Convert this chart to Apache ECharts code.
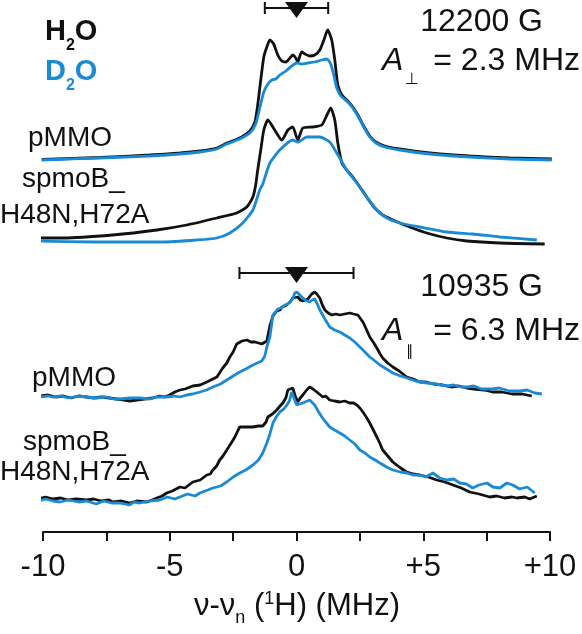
<!DOCTYPE html>
<html><head><meta charset="utf-8">
<script src="https://cdn.jsdelivr.net/npm/echarts@6/dist/echarts.min.js"></script>
<style>html,body{margin:0;padding:0;background:#fff}#c{width:582px;height:634px}</style>
</head><body><div id="c"></div>
<script>
// ---- data: x = nu - nu_n (MHz), y = ENDOR intensity relative to each trace's baseline ----
const perp_pMMO_H2O = [[-10.05,0.5],[-7.76,2.5],[-5.79,5],[-4.60,7],[-3.81,9],[-3.14,12],[-2.75,17],[-2.43,20],[-2.16,23],[-1.84,29],[-1.64,38],[-1.53,55],[-1.41,80],[-1.29,103],[-1.17,113],[-1.05,120],[-0.90,116],[-0.74,105],[-0.58,99],[-0.42,98],[-0.26,102],[-0.15,105],[-0.03,102],[0.05,98],[0.13,104],[0.21,108],[0.33,106],[0.52,104],[0.72,105],[0.92,110],[1.08,120],[1.23,130],[1.39,120],[1.51,100],[1.63,75],[1.79,65],[2.02,59],[2.22,53],[2.42,45],[2.65,34],[2.89,24],[3.13,18],[3.48,14],[4.07,11],[5.26,7],[6.83,4],[8.41,2],[10.07,1]];
const perp_pMMO_D2O = [[-10.05,0],[-7.76,2],[-5.79,4],[-4.60,6],[-3.81,8],[-3.14,11],[-2.75,16],[-2.43,19],[-2.16,22],[-1.84,27],[-1.61,36],[-1.45,52],[-1.29,68],[-1.13,76],[-0.97,80],[-0.82,81],[-0.66,85],[-0.42,89],[-0.19,94],[0.01,97],[0.21,96],[0.45,97],[0.72,98],[1.00,100],[1.20,101],[1.35,96],[1.47,85],[1.59,72],[1.75,64],[2.02,58],[2.22,52],[2.42,44],[2.65,33],[2.89,23],[3.13,17],[3.48,13],[4.07,10],[5.26,6],[6.83,3],[8.41,1],[10.07,0]];
const perp_spmoB_H2O = [[-10.32,4],[-9.21,4],[-7.25,7],[-5.51,12],[-4.33,17],[-3.14,24],[-2.36,29],[-1.96,35],[-1.72,45],[-1.61,57],[-1.53,72],[-1.41,92],[-1.29,112],[-1.13,122],[-0.86,112],[-0.58,102],[-0.34,112],[-0.15,115],[0.05,102],[0.25,114],[0.64,115],[1.00,117],[1.20,127],[1.35,134],[1.51,122],[1.63,99],[1.79,79],[1.98,72],[2.22,65],[2.50,55],[2.77,45],[3.09,34],[3.40,27],[3.80,22],[4.47,15],[5.14,9],[5.93,4],[6.72,1],[8.02,-1],[9.79,-2]];
const perp_spmoB_D2O = [[-10.52,1],[-7.88,0],[-5.27,0],[-3.93,2],[-3.14,4],[-2.63,9],[-2.12,19],[-1.72,32],[-1.45,52],[-1.33,58],[-1.05,79],[-0.66,92],[-0.15,102],[0.05,100],[0.41,105],[0.92,105],[1.31,100],[1.59,89],[1.98,72],[2.38,59],[2.77,45],[3.17,32],[3.56,24],[4.07,19],[4.86,15],[5.93,10],[6.95,8],[8.02,5],[9.48,2]];
const par_pMMO_H2O = [[-10.44,3],[-10.1,2],[-9.8,3],[-9.5,1],[-9.2,2],[-8.9,0],[-8.6,2],[-8.28,1],[-8.0,0],[-7.7,1],[-7.37,0],[-7.1,-1],[-6.8,-2],[-6.58,-3],[-6.3,-2],[-6.0,-1],[-5.67,0],[-5.4,2],[-5.2,1],[-5.00,3],[-4.8,6],[-4.60,8],[-4.4,9],[-4.09,12],[-3.8,13],[-3.54,16],[-3.3,19],[-3.14,21],[-2.91,30],[-2.75,35],[-2.63,41],[-2.5,46],[-2.36,54],[-2.15,57],[-1.96,58],[-1.8,56],[-1.64,56],[-1.5,55],[-1.37,54],[-1.17,57],[-1.05,72],[-0.93,82],[-0.78,87],[-0.65,88],[-0.58,91],[-0.45,92],[-0.38,94],[-0.25,96],[-0.15,100],[0.05,101],[0.15,98],[0.25,97],[0.45,99],[0.60,104],[0.72,106],[0.8,104],[0.92,100],[1.02,93],[1.12,88],[1.25,85],[1.39,83],[1.55,84],[1.71,83],[1.9,84],[2.10,85],[2.25,84],[2.42,83],[2.62,76],[2.75,69],[2.89,61],[3.05,55],[3.17,50],[3.3,44],[3.40,40],[3.6,35],[3.80,31],[4.05,27],[4.35,21],[4.6,19],[4.86,16],[5.1,16],[5.4,14],[5.77,13],[6.1,11],[6.4,12],[6.72,10],[7.0,9],[7.4,8],[7.74,6],[8.1,6],[8.5,4],[8.9,4],[9.28,2]];
const par_pMMO_D2O = [[-10.44,3],[-10.1,1],[-9.8,2],[-9.61,1],[-9.3,2],[-9.0,0],[-8.6,2],[-8.28,1],[-7.9,0],[-7.5,1],[-7.2,-1],[-6.97,-1],[-6.6,0],[-6.18,0],[-5.8,-1],[-5.5,1],[-5.12,1],[-4.8,2],[-4.6,1],[-4.33,3],[-4.1,4],[-3.81,6],[-3.55,8],[-3.30,11],[-3.0,14],[-2.75,18],[-2.5,22],[-2.24,26],[-2.0,29],[-1.72,33],[-1.55,35],[-1.37,37],[-1.25,42],[-1.17,51],[-1.05,61],[-0.93,83],[-0.83,86],[-0.74,89],[-0.6,90],[-0.46,93],[-0.35,94],[-0.26,96],[-0.15,99],[-0.07,105],[0.01,106],[0.13,103],[0.25,100],[0.33,98],[0.52,96],[0.62,98],[0.72,99],[0.82,94],[0.92,88],[1.12,79],[1.31,71],[1.5,68],[1.71,66],[1.9,63],[2.10,60],[2.3,56],[2.50,51],[2.7,46],[2.89,41],[3.1,37],[3.29,33],[3.55,29],[3.80,25],[4.1,22],[4.35,20],[4.7,17],[5.14,15],[5.5,14],[5.93,12],[6.2,13],[6.5,11],[6.72,11],[7.0,12],[7.3,9],[7.74,9],[8.0,10],[8.4,7],[8.81,7],[9.1,8],[9.4,5],[9.68,4]];
const par_spmoB_H2O = [[-10.52,4],[-10.2,3],[-9.9,5],[-9.61,3],[-9.3,4],[-9.0,2],[-8.7,3],[-8.28,2],[-8.0,3],[-7.7,1],[-7.4,2],[-7.25,0],[-6.9,1],[-6.58,-1],[-6.3,1],[-5.91,0],[-5.7,2],[-5.51,4],[-5.3,6],[-5.12,9],[-4.9,11],[-4.60,15],[-4.4,14],[-4.09,20],[-3.8,22],[-3.54,27],[-3.4,28],[-3.30,32],[-3.15,36],[-3.03,42],[-2.9,46],[-2.75,52],[-2.6,58],[-2.43,65],[-2.3,72],[-2.24,75],[-2.0,75],[-1.72,75],[-1.5,76],[-1.33,76],[-1.2,80],[-1.13,85],[-0.95,88],[-0.78,92],[-0.65,96],[-0.54,99],[-0.42,104],[-0.34,112],[-0.15,114],[-0.05,106],[0.05,100],[0.15,104],[0.25,107],[0.4,112],[0.52,115],[0.65,113],[0.80,110],[1.04,105],[1.15,106],[1.31,102],[1.5,101],[1.71,100],[1.9,101],[2.10,99],[2.25,99],[2.38,97],[2.5,94],[2.62,90],[2.75,85],[2.89,79],[3.03,72],[3.17,65],[3.3,58],[3.40,52],[3.6,46],[3.80,40],[4.05,35],[4.35,30],[4.6,28],[4.86,27],[5.2,25],[5.53,22],[5.85,20],[6.17,17],[6.5,14],[6.83,10],[7.2,8],[7.62,5],[7.9,6],[8.2,4],[8.5,5],[8.69,4],[9.0,5],[9.2,3],[9.48,6]];
const par_spmoB_D2O = [[-10.52,4],[-10.2,1],[-9.9,3],[-9.6,1],[-9.33,0],[-9.0,2],[-8.6,0],[-8.28,1],[-7.9,-2],[-7.6,1],[-7.3,-1],[-6.97,-1],[-6.6,-3],[-6.4,0],[-6.18,-1],[-5.8,1],[-5.39,2],[-5.1,5],[-4.8,3],[-4.60,5],[-4.3,8],[-4.0,6],[-3.81,9],[-3.5,12],[-3.30,14],[-3.0,16],[-2.75,20],[-2.5,25],[-2.24,29],[-2.0,32],[-1.72,37],[-1.5,42],[-1.33,49],[-1.17,59],[-1.05,68],[-0.93,79],[-0.8,85],[-0.66,90],[-0.5,93],[-0.38,97],[-0.28,101],[-0.19,110],[-0.1,104],[0.01,97],[0.12,98],[0.25,99],[0.52,102],[0.72,97],[0.85,91],[1.00,85],[1.15,80],[1.31,75],[1.5,72],[1.71,69],[1.9,66],[2.10,62],[2.3,58],[2.50,52],[2.7,49],[2.89,45],[3.1,42],[3.29,39],[3.55,35],[3.80,32],[4.1,30],[4.35,29],[4.6,27],[4.86,27],[5.1,25],[5.38,29],[5.65,24],[5.93,22],[6.2,23],[6.44,19],[6.7,18],[6.95,14],[7.2,17],[7.51,19],[7.75,15],[8.02,14],[8.3,19],[8.53,17],[8.8,13],[9.1,15],[9.40,9]];

// vertical stacking offsets of each trace pair (same arbitrary units as intensity)
const offsets = { perp_pMMO: 372, perp_spmoB: 290, par_pMMO: 134, par_spmoB: 30 };
// hyperfine brackets: [left, centre (triangle), right, level]
const brackets = [[-1.25, 0, 1.25, 524], [-2.25, 0, 2.25, 259]];
const tickValues = [-10, -5, 0, 5, 10];
const tickLabels = ['-10', '-5', '0', '+5', '+10'];

const BLACK = '#111111', BLUE = '#1a8ad4';
const FONT = '"Liberation Sans", Arial, sans-serif';
const mctx = document.createElement('canvas').getContext('2d');
function fontStr(p) { return (p.italic ? 'italic ' : '') + (p.bold ? 'bold ' : '') + p.size + 'px ' + (p.family || FONT); }
function run(pieces, x, baseline, align, color) {
  const widths = pieces.map(p => { mctx.font = fontStr(p); return mctx.measureText(p.t).width; });
  const total = widths.reduce((a, b) => a + b, 0);
  let cx = align === 'right' ? x - total : align === 'center' ? x - total / 2 : x;
  return pieces.map((p, i) => {
    const el = { type: 'text', silent: true, x: cx, y: baseline + (p.dy || 0) - 0.3465 * p.size,
      style: { text: p.t, font: fontStr(p), fill: p.color || color, align: 'left', verticalAlign: 'middle', textAlign: 'left', textVerticalAlign: 'middle' } };
    cx += widths[i];
    return el;
  });
}

const texts = [].concat(
  run([{ t: 'H', size: 29, bold: true }, { t: '2', size: 16, bold: true, dy: 9 }, { t: 'O', size: 29, bold: true }], 45, 42, 'left', BLACK),
  run([{ t: 'D', size: 29, bold: true }, { t: '2', size: 16, bold: true, dy: 9 }, { t: 'O', size: 29, bold: true }], 45, 82, 'left', BLUE),
  run([{ t: '12200 G', size: 32 }], 543, 33, 'right', BLACK),
  run([{ t: 'A', size: 32, italic: true }], 382, 72, 'left', BLACK),
  run([{ t: '\u22A5', size: 16, family: '"DejaVu Sans", sans-serif' }], 405, 85, 'left', BLACK),
  run([{ t: '= 2.3 MHz', size: 32 }], 580, 72, 'right', BLACK),
  run([{ t: '10935 G', size: 32 }], 543, 298, 'right', BLACK),
  run([{ t: 'A', size: 32, italic: true }], 382, 342, 'left', BLACK),
  run([{ t: '\u2225', size: 15, family: '"DejaVu Sans", sans-serif' }], 406, 357, 'left', BLACK),
  run([{ t: '= 6.3 MHz', size: 32 }], 580, 342, 'right', BLACK),
  run([{ t: 'pMMO', size: 28 }], 28, 148, 'left', BLACK),
  run([{ t: 'spmoB_', size: 28 }], 22, 189, 'left', BLACK),
  run([{ t: 'H48N,H72A', size: 28 }], 0, 225, 'left', BLACK),
  run([{ t: 'pMMO', size: 28 }], 32, 388, 'left', BLACK),
  run([{ t: 'spmoB_', size: 28 }], 23, 452, 'left', BLACK),
  run([{ t: 'H48N,H72A', size: 28 }], 0, 482, 'left', BLACK),
  run([{ t: '\u03BD-\u03BD', size: 31 }, { t: 'n', size: 18, dy: 7 }, { t: ' (', size: 31 }, { t: '1', size: 18, dy: -12 }, { t: 'H) (MHz)', size: 31 }], 297, 617, 'center', BLACK)
);

function mk(data, offset, color, smooth) {
  return { type: 'line', data: data.map(d => [d[0], d[1] + offset]), showSymbol: false, symbol: 'none',
    smooth: smooth, lineStyle: { color: color, width: 2.8 }, clip: false, silent: true, z: color === BLUE ? 3 : 2 };
}

const chart = echarts.init(document.getElementById('c'), null, { renderer: 'canvas' });
chart.setOption({
  animation: false,
  backgroundColor: '#fff',
  grid: { left: 43, width: 507, top: 0, height: 532 },
  xAxis: {
    type: 'value', min: -10, max: 10, interval: 2.5,
    axisLine: { lineStyle: { color: BLACK, width: 2 } },
    axisTick: { length: 9, lineStyle: { color: BLACK, width: 2 } },
    splitLine: { show: false },
    axisLabel: {
      color: BLACK, fontSize: 31, fontFamily: FONT, margin: 20, showMinLabel: true, showMaxLabel: true,
      formatter: v => { const i = tickValues.indexOf(v); return i >= 0 ? tickLabels[i] : ''; }
    }
  },
  yAxis: { type: 'value', min: 0, max: 532, show: false },
  series: [
    mk(perp_pMMO_H2O, offsets.perp_pMMO, BLACK, 0.2),
    mk(perp_pMMO_D2O, offsets.perp_pMMO, BLUE, 0.2),
    mk(perp_spmoB_H2O, offsets.perp_spmoB, BLACK, 0.2),
    mk(perp_spmoB_D2O, offsets.perp_spmoB, BLUE, 0.2),
    mk(par_pMMO_H2O, offsets.par_pMMO, BLACK, false),
    mk(par_pMMO_D2O, offsets.par_pMMO, BLUE, false),
    mk(par_spmoB_H2O, offsets.par_spmoB, BLACK, false),
    mk(par_spmoB_D2O, offsets.par_spmoB, BLUE, false),
    {
      type: 'custom', data: brackets, clip: false, silent: true, z: 4,
      encode: { x: [0, 1, 2], y: 3 },
      renderItem: (params, api) => {
        const y = api.value(3);
        const l = api.coord([api.value(0), y]), c = api.coord([api.value(1), y]), r = api.coord([api.value(2), y]);
        const st = { stroke: BLACK, lineWidth: 2 };
        return { type: 'group', children: [
          { type: 'line', shape: { x1: l[0], y1: l[1], x2: r[0], y2: r[1] }, style: st },
          { type: 'line', shape: { x1: l[0], y1: l[1] - 6, x2: l[0], y2: l[1] + 6 }, style: st },
          { type: 'line', shape: { x1: r[0], y1: r[1] - 6, x2: r[0], y2: r[1] + 6 }, style: st },
          { type: 'polygon', shape: { points: [[c[0] - 11.5, c[1] - 6], [c[0] + 11.5, c[1] - 6], [c[0], c[1] + 10]] }, style: { fill: BLACK } }
        ] };
      }
    }
  ],
  graphic: { elements: texts }
});
</script>
</body></html>
